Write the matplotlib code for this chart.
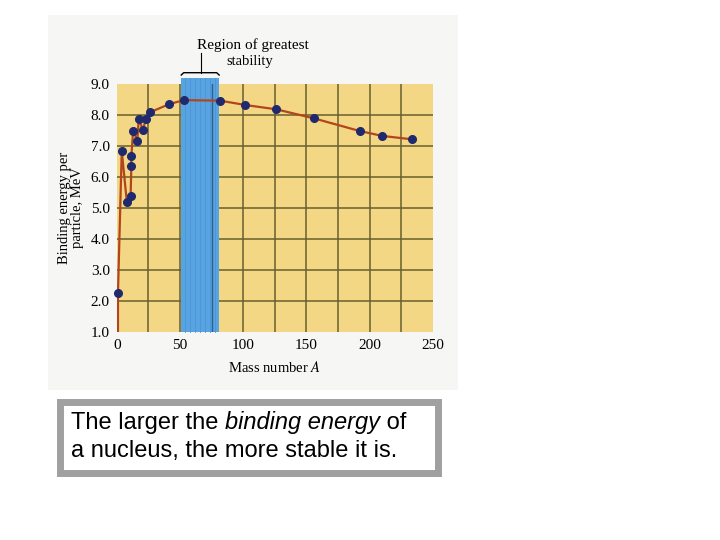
import matplotlib
matplotlib.use("Agg")
import matplotlib.pyplot as plt
from matplotlib.patches import Rectangle
import numpy as np

plt.rcParams["mathtext.fontset"] = "stix"

# ---------------------------------------------------------------------------
# Data (mass number A, binding energy per nucleon)
# ---------------------------------------------------------------------------
mass_number = [1, 4, 8, 11, 11.6, 11.6, 13, 16.3, 17.4, 20.8, 22.9, 26,
               41.6, 53.2, 81.8, 101.8, 126.3, 155.8, 192, 210, 233.7]
binding_mev = [2.25, 6.85, 5.2, 5.4, 6.37, 6.69, 7.5, 7.17, 7.88, 7.52, 7.87, 8.09,
               8.36, 8.49, 8.47, 8.33, 8.19, 7.90, 7.49, 7.33, 7.22]
# the curve runs down off the bottom of the plot before the first point
curve_start_a = [1]
curve_start_e = [0.9]

stable_band = (51, 81)          # region of greatest stability, in A
x_ticks = [0, 50, 100, 150, 200, 250]
y_ticks = [1.0, 2.0, 3.0, 4.0, 5.0, 6.0, 7.0, 8.0, 9.0]

SERIF = ["Liberation Serif", "DejaVu Serif"]
SANS = ["Liberation Sans", "DejaVu Sans"]
YELLOW = "#f4d784"
GRID = "#66602e"
CURVE = "#b2451c"
DOT = "#1f2a6e"
BLUE = "#58a4e2"

fig = plt.figure(figsize=(7.2, 5.4), dpi=100)
fig.patch.set_facecolor("white")

# faded scanned page behind the figure
fig.patches.append(Rectangle((48 / 720, 1 - 390 / 540), 410 / 720, 375 / 540,
                             transform=fig.transFigure, facecolor="#f6f6f4",
                             edgecolor="none", zorder=-5))

ax = fig.add_axes([116.7 / 720, 1 - 331.7 / 540, 316.3 / 720, 247.4 / 540])
ax.set_zorder(3)
ax.set_facecolor(YELLOW)
ax.set_xlim(0, 250)
ax.set_ylim(1.0, 9.0)

# grid
for x in np.arange(25, 250, 25):
    ax.axvline(x, color=GRID, lw=1.1, zorder=1)
for y in y_ticks[1:-1]:
    ax.axhline(y, color=GRID, lw=1.1, zorder=1)

# stability band, poking a bit above the top of the plot
ax.fill_between(stable_band, 1.0, 9.2, color=BLUE, zorder=2, clip_on=False, lw=0)
for x in np.linspace(stable_band[0] + 3, stable_band[1] - 3, 7):
    ax.plot([x, x], [1.0, 9.2], color="#4b95d4", lw=0.6, zorder=2, clip_on=False)
ax.axvline(75, color="#2f5f8a", lw=1.0, zorder=2)

# curve and points
ax.plot(curve_start_a + mass_number, curve_start_e + binding_mev,
        color=CURVE, lw=1.6, zorder=3, solid_joinstyle="round")
ax.plot(mass_number, binding_mev, "o", color=DOT, ms=5.5, zorder=4, clip_on=False)

for s in ax.spines.values():
    s.set_visible(False)
ax.set_xticks(x_ticks)
ax.set_yticks(y_ticks)
ax.set_xticklabels([str(t) for t in x_ticks], family=SERIF, fontsize=11)
ax.set_yticklabels(["%.1f" % t for t in y_ticks], family=SERIF, fontsize=11)
ax.tick_params(length=0, pad=5)

ax.set_xlabel("Mass number $A$", family=SERIF, fontsize=10.5, labelpad=6)
ax.set_ylabel("Binding energy per\nparticle, MeV", family=SERIF, fontsize=10.5,
              labelpad=5, linespacing=1.0)

# bracket + label for the region of greatest stability
bx0, bx1 = stable_band
ax.plot([bx0, bx0 + 2, bx1 - 2, bx1], [9.30, 9.375, 9.375, 9.30], color="black",
        lw=1.0, clip_on=False)
ax.plot([66.4, 66.4], [9.375, 10.0], color="black", lw=0.8, clip_on=False)
ax.text(107.8, 10.27, "Region of greatest", family=SERIF, fontsize=11,
        ha="center", va="center")
ax.text(105.4, 9.73, "stability", family=SERIF, fontsize=10.5,
        ha="center", va="center")

# caption box
fig.patches.append(Rectangle((60 / 720, 1 - 473 / 540), 378 / 720, 71 / 540,
                             transform=fig.transFigure, facecolor="white",
                             edgecolor="#a0a0a0", lw=5, zorder=1))

fig.canvas.draw()
renderer = fig.canvas.get_renderer()


def write_pieces(pieces, x_px, y_px):
    x = x_px / 720
    for txt, style in pieces:
        t = fig.text(x, 1 - y_px / 540, txt, family=SANS, style=style,
                     fontsize=17, va="center", ha="left", zorder=5)
        bb = t.get_window_extent(renderer=renderer)
        x = bb.x1 / fig.bbox.width


write_pieces([("The larger the ", "normal"), ("binding energy", "italic"),
              (" of", "normal")], 71, 423)
write_pieces([("a nucleus, the more stable it is.", "normal")], 71, 451)

fig.savefig("out.png", dpi=100)
